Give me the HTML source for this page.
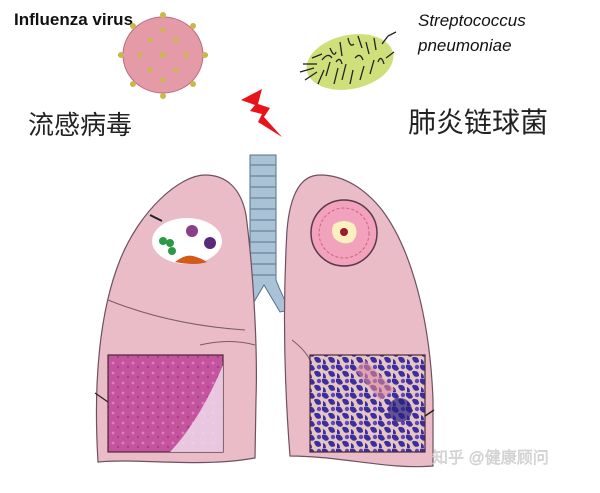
<!DOCTYPE html>
<html><head><meta charset="utf-8"><style>
html,body{margin:0;padding:0;background:#fff;}
svg{display:block;}
</style></head><body>
<svg width="600" height="493" viewBox="0 0 600 493" xmlns="http://www.w3.org/2000/svg">
<defs>
<pattern id="pinkTex" width="10" height="10" patternUnits="userSpaceOnUse">
<rect width="10" height="10" fill="#c4549e"/>
<circle cx="3" cy="3" r="1.4" fill="#e07cc0"/><circle cx="8" cy="7" r="1.2" fill="#a63f86"/>
</pattern>
<pattern id="blueTex" width="14" height="14" patternUnits="userSpaceOnUse">
<rect width="14" height="14" fill="#e6c6c4"/>
<path d="M0 1 q5 -2 7 4 q-3 4 -7 -1z M7 7 q6 -1 6 5 q-5 3 -7 -4z M1 9 q3 1 3 5 l-3 0z" fill="#3a2f9c"/>
<circle cx="11" cy="3" r="2.2" fill="#5a47b8"/>
</pattern>
</defs>

<text x="14" y="25" font-family="Liberation Sans, sans-serif" font-size="17" font-weight="bold" fill="#111">Influenza virus</text>
<text x="418" y="26" font-family="Liberation Sans, sans-serif" font-size="17" font-style="italic" fill="#111">Streptococcus</text>
<text x="418" y="51" font-family="Liberation Sans, sans-serif" font-size="17" font-style="italic" fill="#111">pneumoniae</text>
<text x="28" y="134" font-family="Liberation Sans, 'Noto Sans CJK SC', sans-serif" font-size="26" fill="#222">流感病毒</text>
<text x="408" y="132" font-family="Liberation Sans, 'Noto Sans CJK SC', sans-serif" font-size="28" fill="#222">肺炎链球菌</text>

<!-- virus -->
<g>
<g stroke="#7a9a4a" stroke-width="2">
<line x1="163" y1="55" x2="163" y2="13"/><line x1="163" y1="55" x2="163" y2="98"/>
<line x1="163" y1="55" x2="118" y2="55"/><line x1="163" y1="55" x2="208" y2="55"/>
<line x1="163" y1="55" x2="131" y2="24"/><line x1="163" y1="55" x2="195" y2="86"/>
<line x1="163" y1="55" x2="195" y2="24"/><line x1="163" y1="55" x2="131" y2="86"/>
</g>
<ellipse cx="163" cy="55" rx="40" ry="38" fill="#e59aa8" stroke="#b96a80"/>
<g fill="#c9b84a">
<circle cx="163" cy="15" r="3"/><circle cx="163" cy="96" r="3"/><circle cx="121" cy="55" r="3"/><circle cx="205" cy="55" r="3"/>
<circle cx="133" cy="26" r="3"/><circle cx="193" cy="84" r="3"/><circle cx="193" cy="26" r="3"/><circle cx="133" cy="84" r="3"/>
<circle cx="150" cy="40" r="2.5"/><circle cx="176" cy="40" r="2.5"/><circle cx="150" cy="70" r="2.5"/><circle cx="176" cy="70" r="2.5"/>
<circle cx="163" cy="55" r="3"/><circle cx="140" cy="55" r="2.5"/><circle cx="186" cy="55" r="2.5"/>
<circle cx="163" cy="30" r="2.5"/><circle cx="163" cy="80" r="2.5"/>
</g>
</g>

<!-- bacteria -->
<ellipse cx="350" cy="62" rx="44" ry="27" fill="#cfe07a" transform="rotate(-12 350 62)"/>
<g stroke="#222" stroke-width="1.3" fill="none">
<path d="M300 72 l14 -4"/><path d="M305 80 l12 -8"/><path d="M303 64 l14 0"/>
<path d="M318 84 l6 -14"/><path d="M322 60 q6 -8 10 -2"/><path d="M326 76 l4 -14"/>
<path d="M330 48 q4 10 6 4"/><path d="M334 84 l4 -16"/><path d="M340 42 l2 14"/>
<path d="M342 80 l4 -16"/><path d="M348 38 q2 10 6 6"/><path d="M350 84 l3 -14"/>
<path d="M355 58 q5 -6 8 2"/><path d="M358 36 l4 12"/><path d="M360 80 l4 -14"/>
<path d="M366 42 l3 12"/><path d="M370 74 l4 -14"/><path d="M374 38 l2 12"/>
<path d="M378 62 q3 -8 6 2"/><path d="M382 44 l6 -8"/><path d="M386 58 l8 -6"/>
<path d="M388 36 l8 -4"/><path d="M336 62 q4 -6 6 2"/><path d="M312 58 l10 -4"/>
</g>

<!-- lightning -->
<polygon points="241,100 262,89 258,104 270,108 264,117 282,137 258,122 262,114 250,111 255,105" fill="#e8141a"/>

<!-- trachea -->
<g>
<path d="M250 155 L276 155 L276 280 Q284 300 290 310 L280 312 L264 285 L248 312 L238 310 Q246 295 250 280Z" fill="#a9c2d6" stroke="#56708a" stroke-width="1"/>
<g stroke="#6a849c" stroke-width="1.3" fill="none">
<line x1="250" y1="165" x2="276" y2="165"/><line x1="250" y1="176" x2="276" y2="176"/><line x1="250" y1="187" x2="276" y2="187"/>
<line x1="250" y1="198" x2="276" y2="198"/><line x1="250" y1="209" x2="276" y2="209"/><line x1="250" y1="220" x2="276" y2="220"/>
<line x1="250" y1="231" x2="276" y2="231"/><line x1="250" y1="242" x2="276" y2="242"/><line x1="250" y1="253" x2="276" y2="253"/>
<line x1="250" y1="264" x2="276" y2="264"/><line x1="250" y1="275" x2="276" y2="275"/>
</g>
</g>

<!-- left lung -->
<path d="M205 175 C180 175 140 210 120 260 C100 310 93 380 98 462 C140 458 200 468 255 458 L256 400 C258 340 252 260 246 215 C241 188 226 175 205 175Z" fill="#e9bcc7" stroke="#6e5060" stroke-width="1.2"/>
<path d="M108 300 Q170 325 245 330" stroke="#7a5a68" fill="none"/>
<path d="M200 345 Q230 338 255 345" stroke="#7a5a68" fill="none"/>
<!-- right lung -->
<path d="M320 175 C300 175 290 195 287 230 C283 300 284 380 290 456 C340 456 390 470 433 466 L433 400 C430 320 412 250 382 210 C366 190 345 175 320 175Z" fill="#e9bcc7" stroke="#6e5060" stroke-width="1.2"/>
<path d="M292 340 Q305 350 310 360" stroke="#7a5a68" fill="none"/>

<ellipse cx="187" cy="241" rx="35" ry="23" fill="#fff"/>
<circle cx="170" cy="243" r="4" fill="#2a9a44"/><circle cx="163" cy="241" r="4" fill="#2a9a44"/><circle cx="172" cy="251" r="4" fill="#2a9a44"/>
<circle cx="192" cy="231" r="6" fill="#8a3f8a"/><circle cx="210" cy="243" r="6" fill="#5a2a7a"/>
<path d="M175 262 q10 -8 18 -6 q8 2 14 6 q-12 4 -32 0z" fill="#d45a1a"/>
<line x1="150" y1="215" x2="162" y2="221" stroke="#222" stroke-width="2"/>

<circle cx="344" cy="233" r="33" fill="#f2a2bc" stroke="#5a3a48" stroke-width="1.5"/>
<circle cx="344" cy="233" r="25" fill="none" stroke="#d4607e" stroke-dasharray="3 2"/>
<path d="M334 224 q10 -6 20 0 q6 10 -2 18 q-10 4 -18 -4 q-4 -8 0 -14z" fill="#fbf0c0"/>
<circle cx="344" cy="232" r="4" fill="#9a1a28"/>

<rect x="108" y="355" width="115" height="97" fill="url(#pinkTex)" stroke="#4a2a34" stroke-width="1.2"/>
<path d="M223 365 L223 452 L170 452 Q200 420 223 365z" fill="#f0dceb" opacity="0.85"/>
<rect x="310" y="355" width="115" height="97" fill="url(#blueTex)" stroke="#4a2a34" stroke-width="1.2"/>
<path d="M365 360 L395 390 L380 400 L355 370z" fill="#e08aa0" opacity="0.6"/>
<circle cx="400" cy="410" r="12" fill="#2a2080" opacity="0.7"/>
<line x1="95" y1="393" x2="108" y2="402" stroke="#222" stroke-width="1.2"/>
<line x1="425" y1="416" x2="434" y2="410" stroke="#222" stroke-width="1.5"/>

<text x="432" y="463" font-family="Liberation Sans, 'Noto Sans CJK SC', sans-serif" font-size="16" fill="#ddd" stroke="#c4c4c4" stroke-width="0.4">知乎 @健康顾问</text>
</svg>
</body></html>
